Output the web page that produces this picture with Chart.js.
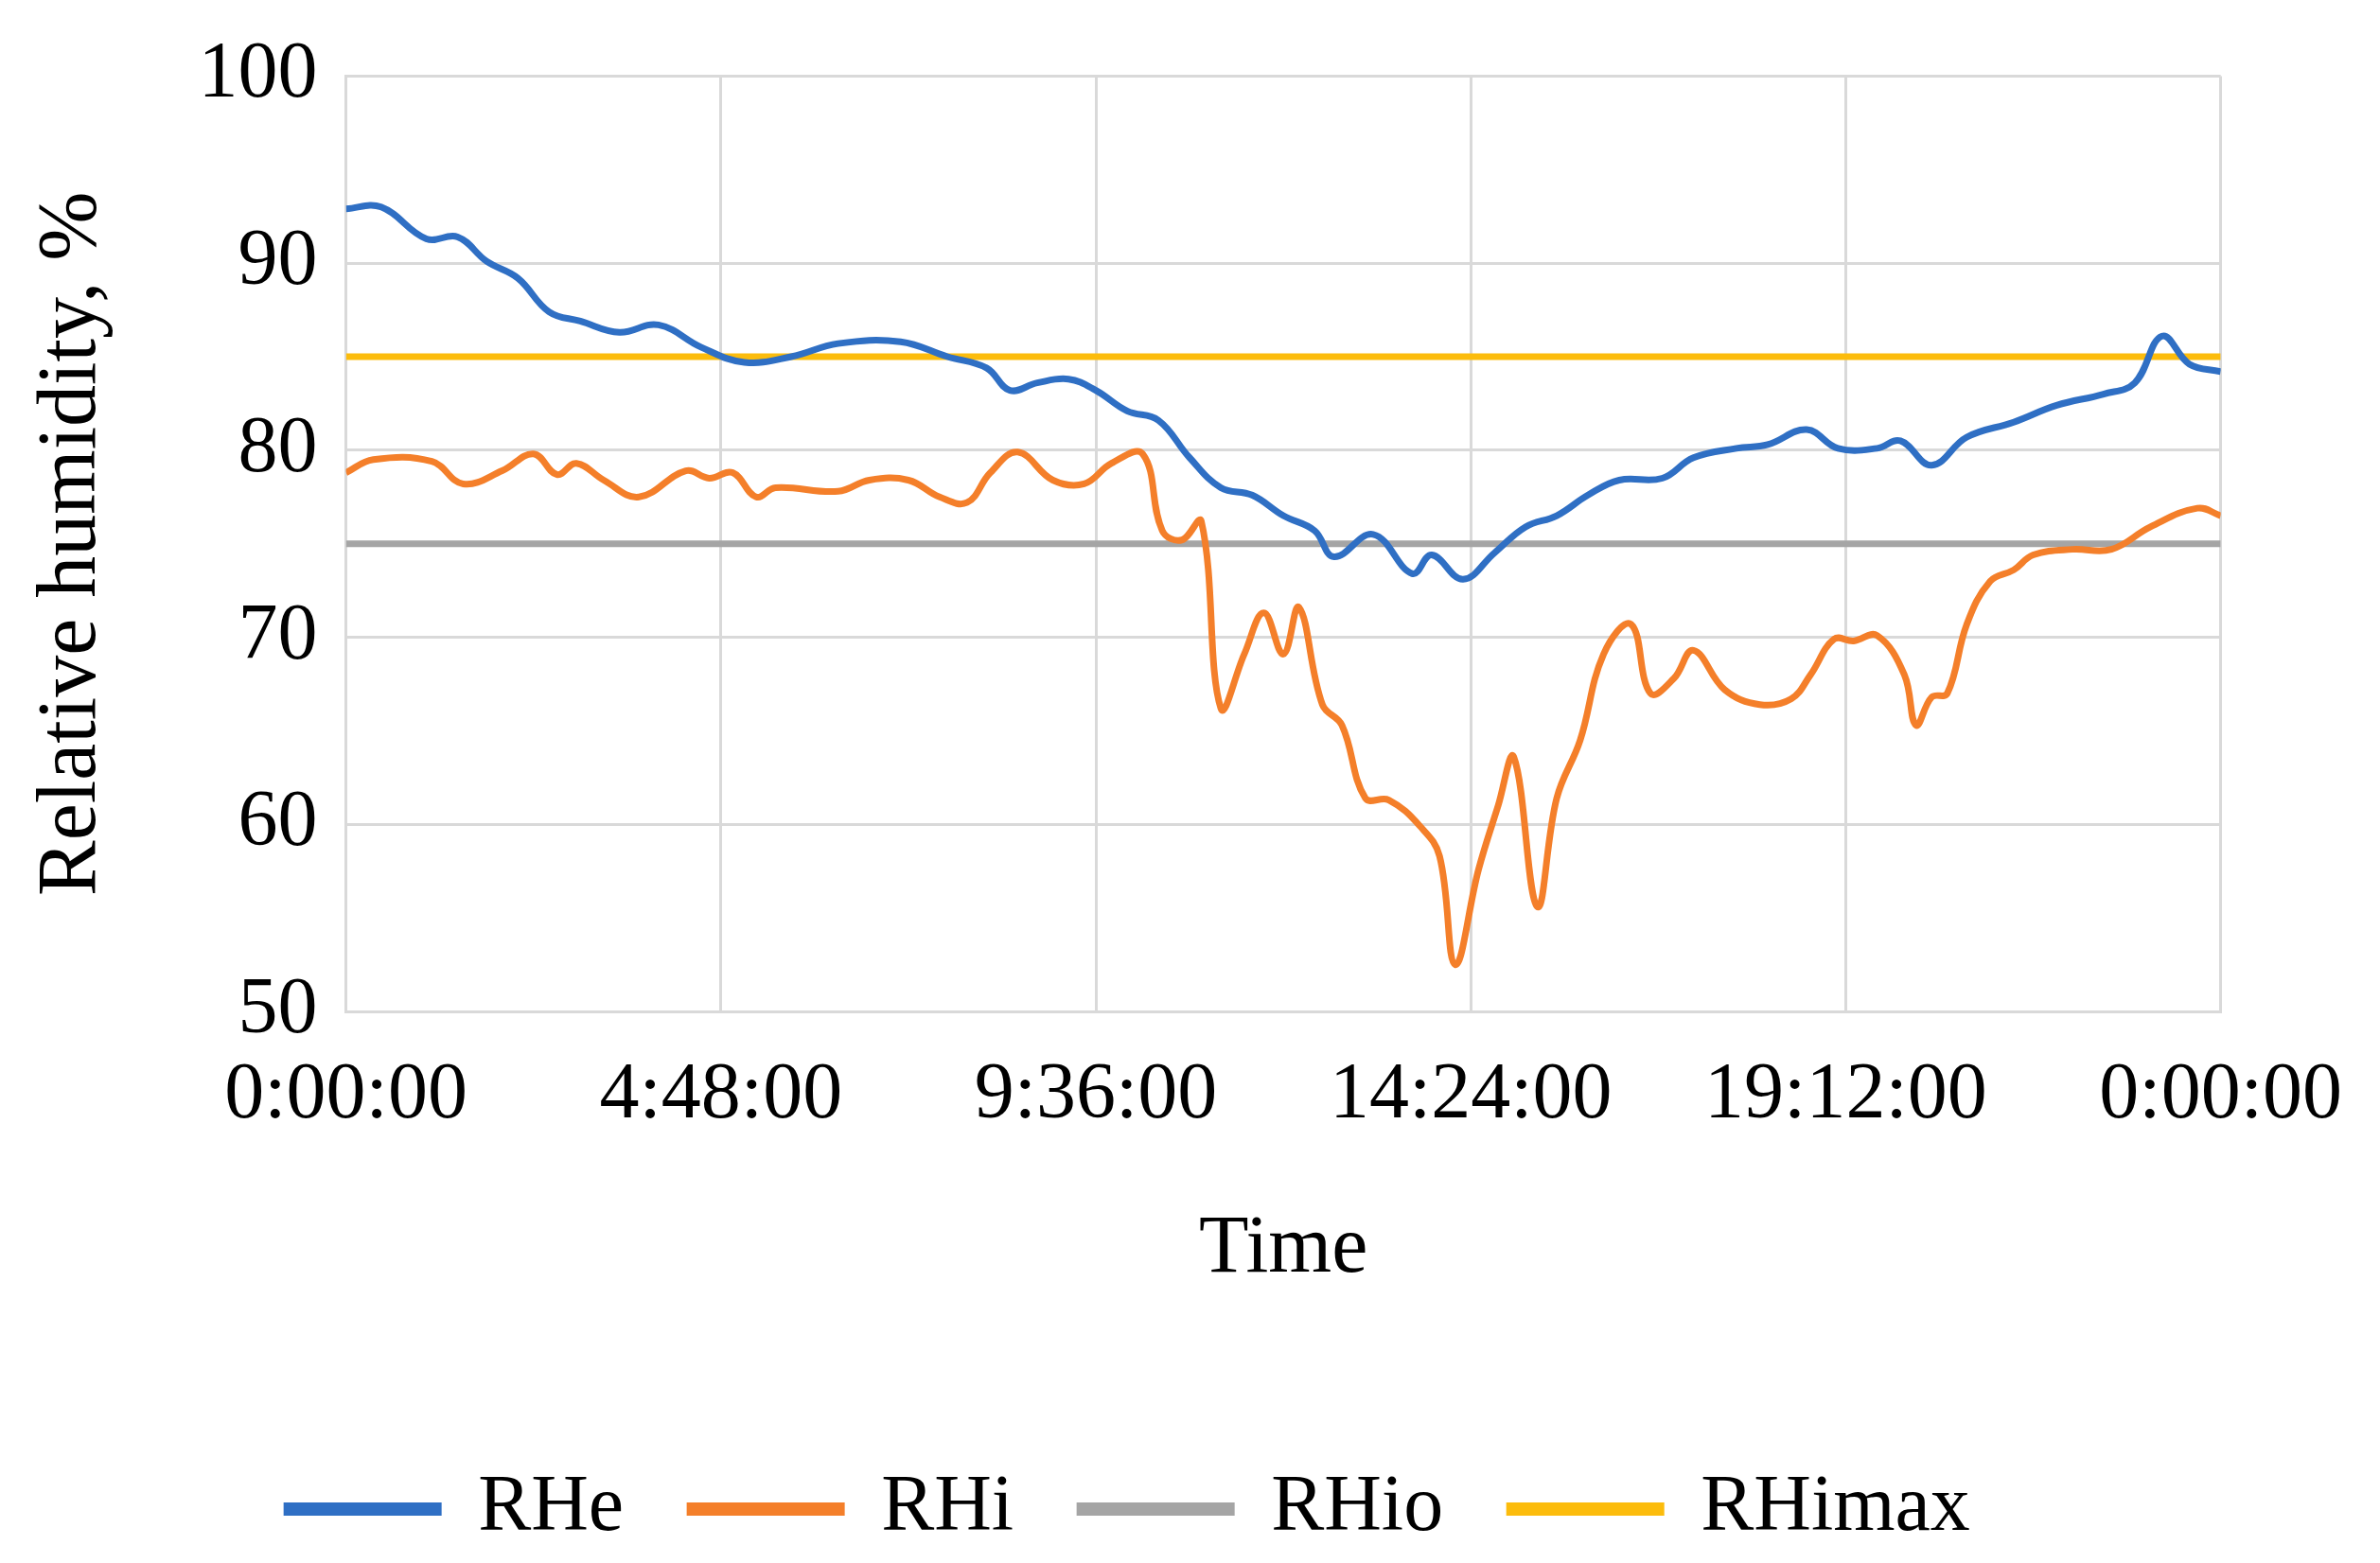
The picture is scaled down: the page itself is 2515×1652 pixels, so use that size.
<!DOCTYPE html>
<html>
<head>
<meta charset="utf-8">
<script src="https://cdn.jsdelivr.net/npm/chart.js@4/dist/chart.umd.min.js"></script>
<style>
  html, body { margin: 0; padding: 0; background: #fff; }
  #wrap { width: 2515px; height: 1652px; }
</style>
</head>
<body>
<div id="wrap"><canvas id="humidityChart"></canvas></div>
<script>
// Time in hours (0 - 24)
const rheHours = [0, 0.45, 1.03, 1.43, 1.8, 2.2, 2.6, 3.0, 3.5, 4.0, 4.55, 5.1, 5.7, 6.3, 7.1, 7.7, 8.2, 8.5, 8.85, 9.25, 9.6, 10.0, 10.4, 10.8, 11.2, 11.6, 12.0, 12.4, 12.65, 13.15, 13.65, 13.9, 14.3, 14.7, 15.1, 15.5, 15.9, 16.3, 16.85, 17.25, 17.8, 18.2, 18.7, 19.1, 19.6, 19.9, 20.3, 20.75, 21.35, 21.9, 22.5, 22.9, 23.25, 23.6, 24];
const rheValues = [92.9, 93, 91.3, 91.4, 90.1, 89.2, 87.4, 86.9, 86.3, 86.7, 85.5, 84.7, 85, 85.7, 85.8, 85, 84.4, 83.2, 83.6, 83.8, 83.2, 82.1, 81.6, 79.6, 78, 77.6, 76.5, 75.7, 74.3, 75.5, 73.4, 74.4, 73.1, 74.5, 75.9, 76.5, 77.6, 78.4, 78.5, 79.6, 80.1, 80.3, 81.1, 80.1, 80.1, 80.5, 79.2, 80.7, 81.5, 82.4, 83, 83.6, 86.1, 84.6, 84.2];

const rhiHours = [0, 0.35, 1.1, 1.5, 2.0, 2.4, 2.7, 2.95, 3.3, 3.75, 4.35, 4.65, 4.95, 5.25, 5.5, 6.3, 6.7, 7.2, 7.6, 7.95, 8.25, 8.6, 9.05, 9.45, 9.8, 10.2, 10.45, 10.7, 10.95, 11.2, 11.5, 11.75, 12.0, 12.2, 12.5, 12.75, 13.05, 13.35, 13.75, 14.0, 14.2, 14.5, 14.75, 14.95, 15.25, 15.5, 15.8, 16.1, 16.45, 16.7, 17.0, 17.25, 17.65, 18.1, 18.5, 18.75, 19.05, 19.3, 19.6, 19.95, 20.1, 20.3, 20.5, 20.75, 21.05, 21.35, 21.6, 22.1, 22.6, 23.1, 23.7, 24];
const rhiValues = [78.8, 79.5, 79.4, 78.2, 78.9, 79.8, 78.7, 79.3, 78.4, 77.5, 78.9, 78.5, 78.8, 77.5, 78, 77.8, 78.4, 78.4, 77.5, 77.2, 78.8, 79.9, 78.4, 78.2, 79.3, 79.8, 75.7, 75.2, 76.2, 66.2, 69.1, 71.3, 69.1, 71.6, 66.4, 65.3, 61.4, 61.3, 59.9, 58.3, 52.5, 57.6, 61, 63.6, 55.6, 61.4, 64.5, 69.1, 70.7, 67, 67.8, 69.3, 67.2, 66.4, 66.7, 68, 69.9, 69.8, 70.1, 68, 65.3, 66.8, 67, 70.7, 73, 73.6, 74.4, 74.7, 74.7, 75.9, 76.9, 76.5];

const rhioHours = [0, 24];
const rhioValues = [75, 75];
const rhimaxHours = [0, 24];
const rhimaxValues = [85, 85];

const yTicks = [50, 60, 70, 80, 90, 100];

function toPoints(xs, ys) {
    return xs.map((x, i) => ({ x: x, y: ys[i] }));
}

function formatHours(h) {
    // 24h wraps round to 0:00:00 like the original
    let total = Math.round(h * 60) % (24 * 60);
    const hh = Math.floor(total / 60);
    const mm = total % 60;
    return hh + ':' + String(mm).padStart(2, '0') + ':00';
}

const FONT = '"Liberation Serif", "Times New Roman", serif';

function lineSet(label, xs, ys, color, tension) {
    return {
        label: label,
        data: toPoints(xs, ys),
        borderColor: color,
        backgroundColor: color,
        borderWidth: 7,
        pointRadius: 0,
        tension: tension,
        fill: false
    };
}

new Chart(document.getElementById('humidityChart'), {
    type: 'line',
    data: {
        datasets: [
            lineSet('RHe', rheHours, rheValues, '#2f6fc4', 0.4),
            lineSet('RHi', rhiHours, rhiValues, '#f47f2a', 0.4),
            lineSet('RHio', rhioHours, rhioValues, '#a5a5a5', 0),
            lineSet('RHimax', rhimaxHours, rhimaxValues, '#fcbc0c', 0)
        ]
    },
    options: {
        responsive: true,
        maintainAspectRatio: false,
        animation: false,
        layout: { padding: { left: 20, right: 150, top: 30, bottom: 5 } },
        plugins: {
            tooltip: { enabled: false },
            legend: {
                position: 'bottom',
                labels: {
                    font: { family: FONT, size: 84 },
                    color: '#000',
                    boxWidth: 160,
                    boxHeight: 7,
                    padding: 70
                }
            }
        },
        scales: {
            x: {
                type: 'linear',
                min: 0,
                max: 24,
                afterBuildTicks: axis => {
                    axis.ticks = [0, 4.8, 9.6, 14.4, 19.2, 24].map(v => ({ value: v }));
                },
                ticks: {
                    callback: v => formatHours(v),
                    font: { family: FONT, size: 84 },
                    color: '#000',
                    maxRotation: 0,
                    padding: 40
                },
                grid: { color: '#d9d9d9', lineWidth: 3, drawTicks: false },
                border: { color: '#d9d9d9', width: 3 },
                title: {
                    display: true,
                    text: 'Time',
                    font: { family: FONT, size: 86 },
                    color: '#000',
                    padding: { top: 20, bottom: 110 }
                }
            },
            y: {
                min: 50,
                max: 100,
                afterBuildTicks: axis => {
                    axis.ticks = yTicks.map(v => ({ value: v }));
                },
                ticks: {
                    font: { family: FONT, size: 84 },
                    color: '#000',
                    padding: 30
                },
                grid: { color: '#d9d9d9', lineWidth: 3, drawTicks: false },
                border: { color: '#d9d9d9', width: 3 },
                title: {
                    display: true,
                    text: 'Relative humidity, %',
                    font: { family: FONT, size: 88 },
                    color: '#000',
                    padding: { bottom: 50 }
                }
            }
        }
    }
});
</script>
</body>
</html>
